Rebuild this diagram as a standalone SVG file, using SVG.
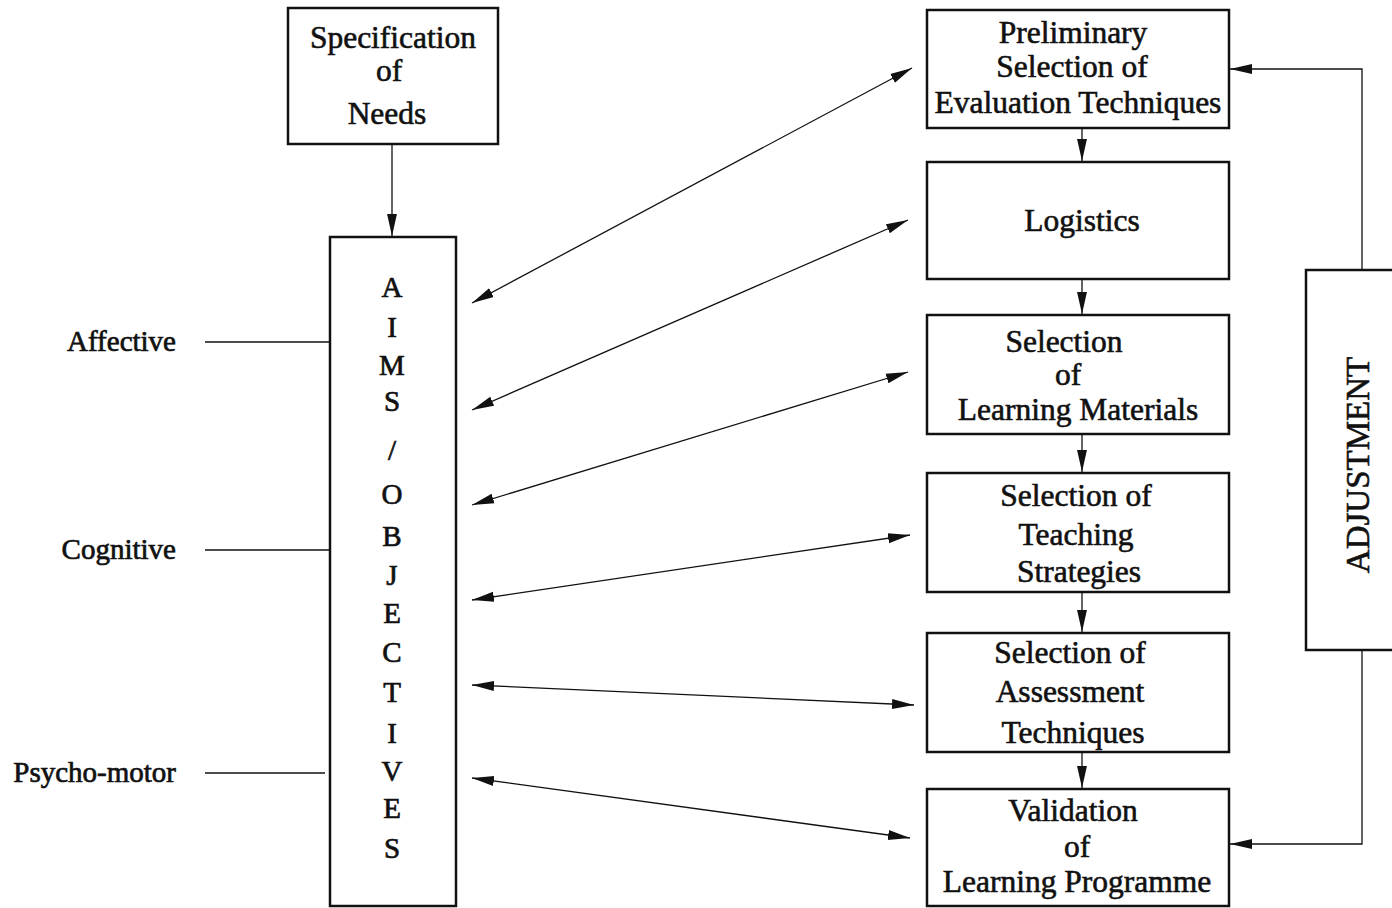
<svg xmlns="http://www.w3.org/2000/svg" width="1392" height="908" viewBox="0 0 1392 908">
<style>
.box{fill:#fff;stroke:#111;stroke-width:2.5}
.ln{fill:none;stroke:#111;stroke-width:1.3}
.t{font-family:"Liberation Serif","Times New Roman",serif;font-size:31.5px;fill:#111;text-anchor:middle;stroke:#111;stroke-width:0.6}
.lab{font-family:"Liberation Serif","Times New Roman",serif;font-size:29px;fill:#111;text-anchor:end;stroke:#111;stroke-width:0.7}
.ltr{font-family:"Liberation Serif","Times New Roman",serif;font-size:29px;fill:#111;text-anchor:middle;stroke:#111;stroke-width:0.7}
</style>
<defs>
<marker id="ah" markerUnits="userSpaceOnUse" markerWidth="22" markerHeight="12" refX="20" refY="4.5" orient="auto-start-reverse" viewBox="0 0 20 9">
<path d="M0,0 L20,4.5 L0,9 z" fill="#111"/>
</marker>
</defs>
<rect width="1392" height="908" fill="#fff"/>
<g id="connectors">
<line class="ln" x1="392" y1="144" x2="392" y2="236" marker-end="url(#ah)"/>
<line class="ln" x1="205" y1="342" x2="330" y2="342"/>
<line class="ln" x1="205" y1="550" x2="330" y2="550"/>
<line class="ln" x1="205" y1="773" x2="325" y2="773"/>
<line class="ln" x1="472" y1="303" x2="912" y2="68" marker-start="url(#ah)" marker-end="url(#ah)"/>
<line class="ln" x1="472" y1="410" x2="908" y2="220" marker-start="url(#ah)" marker-end="url(#ah)"/>
<line class="ln" x1="472" y1="505" x2="908" y2="372" marker-start="url(#ah)" marker-end="url(#ah)"/>
<line class="ln" x1="472" y1="600" x2="910" y2="535" marker-start="url(#ah)" marker-end="url(#ah)"/>
<line class="ln" x1="472" y1="685" x2="914" y2="705" marker-start="url(#ah)" marker-end="url(#ah)"/>
<line class="ln" x1="472" y1="778" x2="910" y2="838" marker-start="url(#ah)" marker-end="url(#ah)"/>
<line class="ln" x1="1082" y1="128" x2="1082" y2="161" marker-end="url(#ah)"/>
<line class="ln" x1="1082" y1="279" x2="1082" y2="314" marker-end="url(#ah)"/>
<line class="ln" x1="1082" y1="434" x2="1082" y2="472" marker-end="url(#ah)"/>
<line class="ln" x1="1082" y1="592" x2="1082" y2="632" marker-end="url(#ah)"/>
<line class="ln" x1="1082" y1="752" x2="1082" y2="788" marker-end="url(#ah)"/>
<polyline class="ln" points="1362,270 1362,69 1230,69" marker-end="url(#ah)"/>
<polyline class="ln" points="1362,650 1362,844 1230,844" marker-end="url(#ah)"/>
</g>
<g id="spec">
<rect class="box" x="288" y="8" width="210" height="136"/>
<text class="t" x="393" y="48">Specification</text>
<text class="t" x="389" y="81">of</text>
<text class="t" x="387" y="124">Needs</text>
</g>
<g id="aims">
<rect class="box" x="330" y="237" width="126" height="669"/>
<text class="ltr" x="392" y="297">A</text>
<text class="ltr" x="392" y="337">I</text>
<text class="ltr" x="392" y="375">M</text>
<text class="ltr" x="392" y="411">S</text>
<text class="ltr" x="392" y="460">/</text>
<text class="ltr" x="392" y="504">O</text>
<text class="ltr" x="392" y="546">B</text>
<text class="ltr" x="392" y="585">J</text>
<text class="ltr" x="392" y="623">E</text>
<text class="ltr" x="392" y="662">C</text>
<text class="ltr" x="392" y="702">T</text>
<text class="ltr" x="392" y="743">I</text>
<text class="ltr" x="392" y="781">V</text>
<text class="ltr" x="392" y="818">E</text>
<text class="ltr" x="392" y="858">S</text>
</g>
<g id="labels">
<text class="lab" x="176" y="351">Affective</text>
<text class="lab" x="176" y="559">Cognitive</text>
<text class="lab" x="176" y="782">Psycho-motor</text>
</g>
<g id="prelim">
<rect class="box" x="927" y="10" width="302" height="118"/>
<text class="t" x="1073" y="43">Preliminary</text>
<text class="t" x="1072" y="77">Selection of</text>
<text class="t" x="1078" y="113">Evaluation Techniques</text>
</g>
<g id="logistics">
<rect class="box" x="927" y="162" width="302" height="117"/>
<text class="t" x="1082" y="231">Logistics</text>
</g>
<g id="materials">
<rect class="box" x="927" y="315" width="302" height="119"/>
<text class="t" x="1064" y="352">Selection</text>
<text class="t" x="1068" y="385">of</text>
<text class="t" x="1078" y="420">Learning Materials</text>
</g>
<g id="teaching">
<rect class="box" x="927" y="473" width="302" height="119"/>
<text class="t" x="1076" y="506">Selection of</text>
<text class="t" x="1076" y="545">Teaching</text>
<text class="t" x="1079" y="582">Strategies</text>
</g>
<g id="assessment">
<rect class="box" x="927" y="633" width="302" height="119"/>
<text class="t" x="1070" y="663">Selection of</text>
<text class="t" x="1070" y="702">Assessment</text>
<text class="t" x="1073" y="743">Techniques</text>
</g>
<g id="validation">
<rect class="box" x="927" y="789" width="302" height="117"/>
<text class="t" x="1073" y="821">Validation</text>
<text class="t" x="1077" y="857">of</text>
<text class="t" x="1077" y="892">Learning Programme</text>
</g>
<g id="adjustment">
<rect class="box" x="1306" y="270" width="90" height="380"/>
<text class="t" transform="translate(1369,465) rotate(-90)" x="0" y="0" style="font-size:33px">ADJUSTMENT</text>
</g>
</svg>
